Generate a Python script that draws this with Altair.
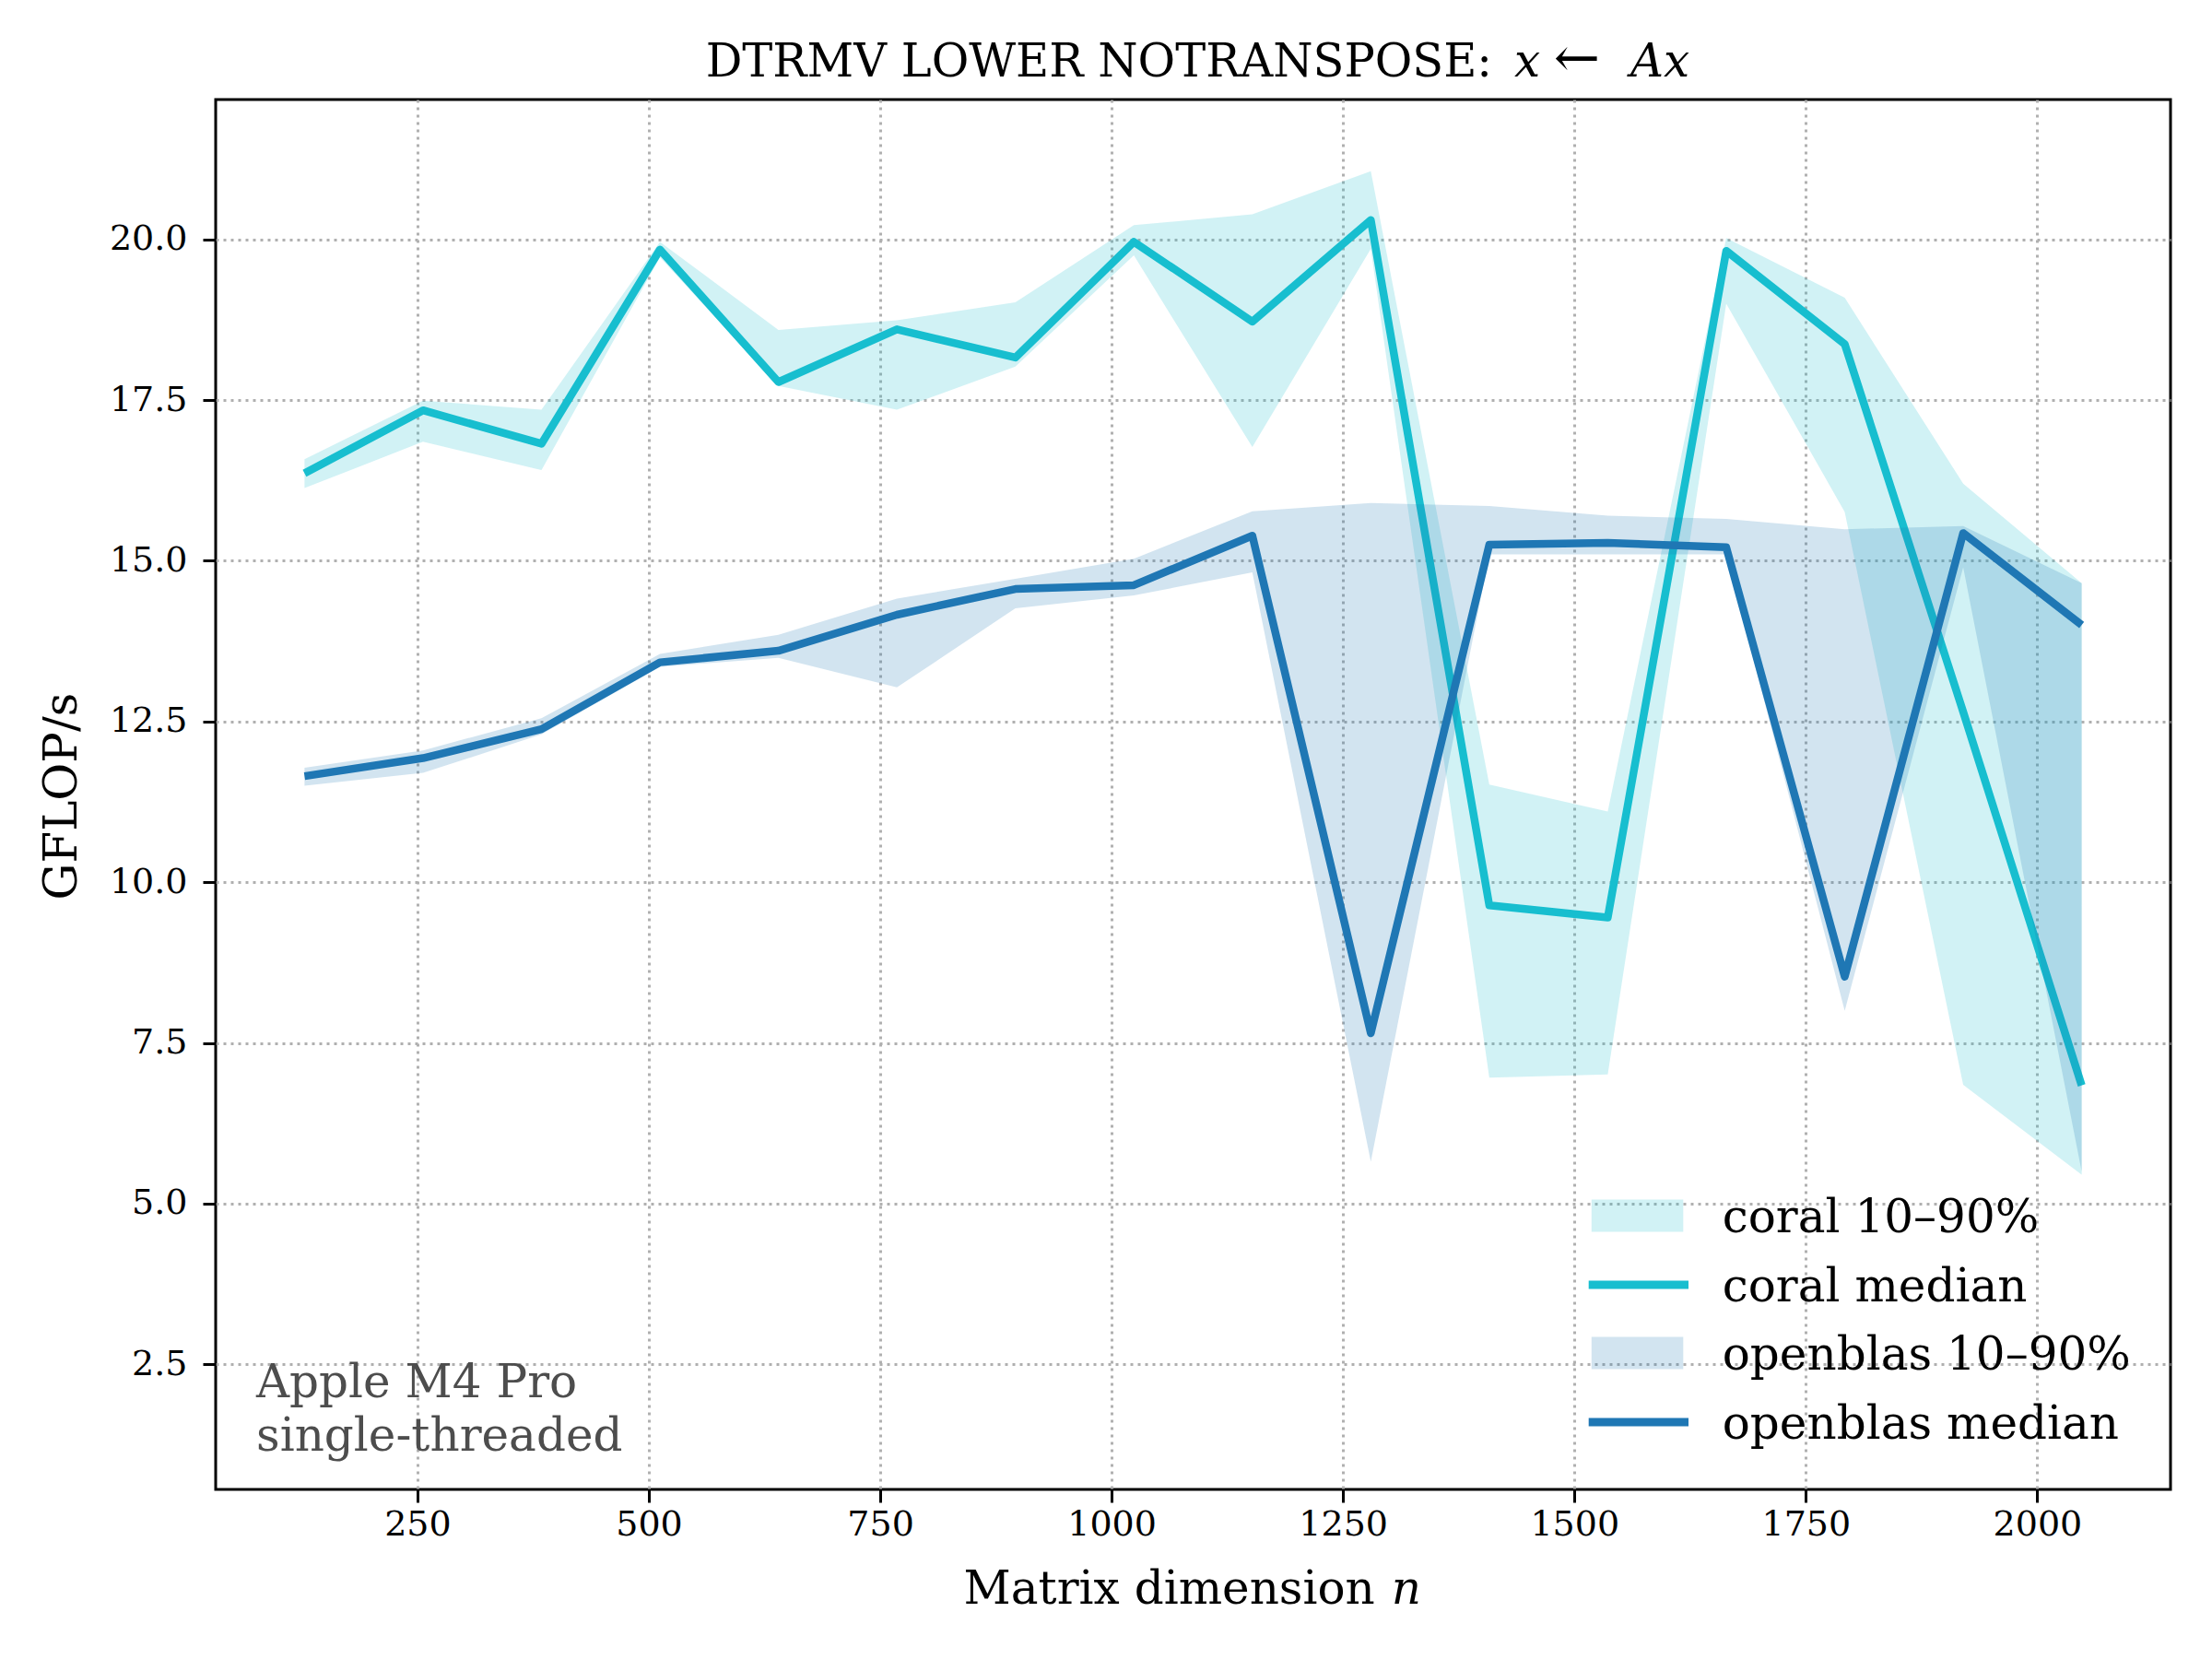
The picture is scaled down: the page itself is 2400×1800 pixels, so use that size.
import altair as alt
import pandas as pd

# ---- data ----
n_vals = [128, 256, 384, 512, 640, 768, 896, 1024, 1152, 1280, 1408, 1536, 1664, 1792, 1920, 2048]

coral_med = [16.36, 17.34, 16.82, 19.84, 17.78, 18.60, 18.16, 19.96, 18.72, 20.30, 9.64, 9.45, 19.82, 18.37, 12.65, 6.84]
coral_lo = [16.13, 16.85, 16.41, 19.72, 17.72, 17.35, 18.02, 19.75, 16.77, 19.85, 6.96, 7.01, 19.00, 15.76, 6.85, 5.45]
coral_hi = [16.58, 17.49, 17.35, 19.96, 18.59, 18.74, 19.02, 20.22, 20.39, 21.06, 11.52, 11.10, 20.02, 19.09, 16.20, 14.65]

ob_med = [11.65, 11.93, 12.38, 13.42, 13.60, 14.16, 14.56, 14.62, 15.39, 7.65, 15.25, 15.28, 15.21, 8.53, 15.43, 14.00]
ob_lo = [11.50, 11.70, 12.30, 13.35, 13.49, 13.03, 14.26, 14.46, 14.82, 5.65, 15.10, 15.10, 15.10, 8.00, 14.90, 5.50]
ob_hi = [11.78, 12.05, 12.55, 13.55, 13.85, 14.41, 14.72, 15.03, 15.77, 15.90, 15.85, 15.70, 15.65, 15.49, 15.54, 14.65]

x_ticks = [250, 500, 750, 1000, 1250, 1500, 1750, 2000]
y_ticks = [2.5, 5.0, 7.5, 10.0, 12.5, 15.0, 17.5, 20.0]

legend_labels = ["coral 10–90%", "coral median", "openblas 10–90%", "openblas median"]
title_main = "DTRMV LOWER NOTRANSPOSE:"
title_x = "x"
title_arrow = "←"
title_ax = "Ax"
xlabel_main = "Matrix dimension"
xlabel_math = "n"
ylabel = "GFLOP/s"
note_lines = ["Apple M4 Pro", "single-threaded"]

CORAL = "#17becf"
OPENBLAS = "#1f77b4"
FONT = "DejaVu Serif"

coral_df = pd.DataFrame({"n": n_vals, "med": coral_med, "lo": coral_lo, "hi": coral_hi})
ob_df = pd.DataFrame({"n": n_vals, "med": ob_med, "lo": ob_lo, "hi": ob_hi})

W, H = 2121, 1508

xscale = alt.Scale(domain=[32, 2144], nice=False, zero=False)
yscale = alt.Scale(domain=[0.555, 22.174], nice=False, zero=False)
xaxis = alt.Axis(values=x_ticks, format="d", title=None, labelPadding=5)
yaxis = alt.Axis(values=y_ticks, format=".1f", title=None, labelPadding=17)


def band(df, color):
    return alt.Chart(df).mark_area(color=color, opacity=0.2).encode(
        x=alt.X("n:Q", scale=xscale, axis=xaxis),
        y=alt.Y("lo:Q", scale=yscale, axis=yaxis),
        y2="hi:Q",
    )


def median(df, color):
    return alt.Chart(df).mark_line(color=color, strokeWidth=8.5, strokeJoin="round").encode(
        x=alt.X("n:Q", scale=xscale, axis=xaxis),
        y=alt.Y("med:Q", scale=yscale, axis=yaxis),
    )


one = pd.DataFrame({"k": [0]})


def text_at(txt, x, y, size, align="left", style="normal", color="black", angle=0, baseline="alphabetic"):
    kw = dict(align=align, baseline=baseline, font=FONT, fontSize=size, fontStyle=style, color=color)
    if angle:
        kw["angle"] = angle
    return alt.Chart(one).mark_text(text=txt, **kw).encode(x=alt.value(x), y=alt.value(y))


# legend (drawn manually, positions are layout only)
leg_rows = [1210.9, 1286.0, 1360.0, 1435.0]
legend_layers = [
    alt.Chart(one).mark_rect(color=CORAL, opacity=0.2).encode(
        x=alt.value(1492.8), x2=alt.value(1592.3), y=alt.value(leg_rows[0] - 17.5), y2=alt.value(leg_rows[0] + 17.5)),
    alt.Chart(one).mark_rule(color=CORAL, strokeWidth=9).encode(
        x=alt.value(1489.7), x2=alt.value(1598), y=alt.value(leg_rows[1])),
    alt.Chart(one).mark_rect(color=OPENBLAS, opacity=0.2).encode(
        x=alt.value(1492.8), x2=alt.value(1592.3), y=alt.value(leg_rows[2] - 17.5), y2=alt.value(leg_rows[2] + 17.5)),
    alt.Chart(one).mark_rule(color=OPENBLAS, strokeWidth=9).encode(
        x=alt.value(1489.7), x2=alt.value(1598), y=alt.value(leg_rows[3])),
]
for lab, ry in zip(legend_labels, leg_rows):
    legend_layers.append(text_at(lab, 1634.75, ry + 18, 50))

texts = [
    text_at(title_main, 1385, -25, 49.5, align="right"),
    text_at(title_x, 1409, -25, 50, align="left", style="italic"),
    text_at(title_arrow, 1477, -25, 60, align="center"),
    text_at(title_ax, 1535, -25, 50, align="left", style="italic"),
    text_at(xlabel_main, 1257.8, 1631.7, 50, align="right"),
    text_at(xlabel_math, 1275.7, 1631.7, 50, align="left", style="italic"),
    text_at(ylabel, -166.5, 756, 50, align="center", angle=270, baseline="middle"),
    text_at(note_lines[0], 44, 1408.4, 50, color="#4d4d4d"),
    text_at(note_lines[1], 44, 1465.7, 50, color="#4d4d4d"),
]

chart = alt.layer(
    band(coral_df, CORAL),
    median(coral_df, CORAL),
    band(ob_df, OPENBLAS),
    median(ob_df, OPENBLAS),
    *legend_layers,
    *texts,
).properties(
    width=W,
    height=H,
    autosize=alt.AutoSizeParams(type="none"),
    padding={"left": 226, "top": 100, "right": 30, "bottom": 170},
    background="white",
).configure_view(
    stroke="black", strokeWidth=3
).configure_axis(
    labelFont=FONT,
    labelFontSize=38,
    labelColor="black",
    tickColor="black",
    tickSize=14,
    tickWidth=3,
    domain=False,
    grid=True,
    gridColor="#b0b0b0",
    gridDash=[3, 5],
    gridWidth=3,
)

chart.save("out.html", embed_options={"renderer": "svg", "actions": False})
